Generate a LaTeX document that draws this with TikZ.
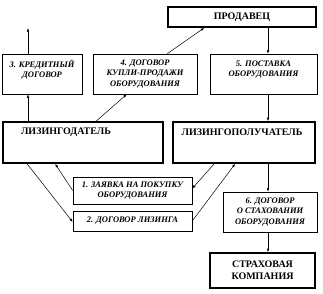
\documentclass[tikz,border=0pt]{standalone}
\usepackage{fontspec}
\setmainfont{Liberation Serif}
\usetikzlibrary{arrows.meta,calc,positioning}

\begin{document}
\begin{tikzpicture}[x=1pt, y=-1pt, >={Latex[length=3.5pt,width=2.6pt]},
    stage/.style={draw, line width=0.6pt, align=center, inner sep=0pt,
                  font=\fontsize{8.5}{10.5}\selectfont\bfseries\itshape},
    party/.style={draw, line width=1.7pt, align=center, inner sep=0pt,
                  font=\fontsize{10}{12}\selectfont\bfseries},
    partytext/.style={font=\fontsize{10}{12}\selectfont\bfseries, inner sep=0pt},
    flow/.style={->, line width=0.5pt}]
    \useasboundingbox (0,0) rectangle (323,293);

    % Parties
    \node[party, minimum width=148pt, minimum height=20pt] (prod) at (242,17) {ПРОДАВЕЦ};
    \node[party, minimum width=160pt, minimum height=41pt] (ldat) at (83,142.5) {};
    \node[partytext] (ldattext) at (66,132) {ЛИЗИНГОДАТЕЛЬ};
    \node[party, minimum width=142pt, minimum height=41pt] (lpol) at (244,142.5) {};
    \node[partytext] (lpoltext) at (242,132) {ЛИЗИНГОПОЛУЧАТЕЛЬ};
    \node[party, minimum width=105pt, minimum height=35pt] (skomp) at (262.5,270.5) {СТРАХОВАЯ\\КОМПАНИЯ};

    % Stages
    \node[stage, minimum width=80pt, minimum height=40pt] (kred) at (42,74) {3. КРЕДИТНЫЙ\\ДОГОВОР\\~};
    \node[stage, minimum width=104pt, minimum height=40pt] (kupli) at (145,74) {4. ДОГОВОР\\КУПЛИ-ПРОДАЖИ\\ОБОРУДОВАНИЯ};
    \node[stage, minimum width=107pt, minimum height=40pt] (post) at (263.5,74) {5. ПОСТАВКА\\ОБОРУДОВАНИЯ\\~};
    \node[stage, minimum width=119pt, minimum height=27pt] (zayav) at (132.5,190.5) {1. ЗАЯВКА НА ПОКУПКУ\\ОБОРУДОВАНИЯ};
    \node[stage, minimum width=119pt, minimum height=20pt] (dlis) at (132.5,221) {2. ДОГОВОР ЛИЗИНГА};
    \node[stage, minimum width=94pt, minimum height=40pt] (strah) at (270,212) {6. ДОГОВОР\\О СТАХОВАНИИ\\ОБОРУДОВАНИЯ};

    % Connections - left column
    \coordinate (kredtop) at (28,28);
    \draw[flow] (kred.north -| kredtop) -- (kredtop);
    \draw[flow] (ldat.north -| kredtop) -- (kred.south -| kredtop);
    \draw[flow] ($(ldat.north west)+(94,0)$) -- ($(kupli.south west)+(34,0)$);
    \draw[flow] ($(kupli.north east)+(-30,0)$) -- ($(prod.south west)+(37,0)$);

    % Connections - right column
    \coordinate (axis) at (268,0);
    \draw[flow] (prod.south -| axis) -- (post.north -| axis);
    \draw[flow] (post.south -| axis) -- (lpol.north -| axis);
    \draw[flow] (lpol.south -| axis) -- (strah.north -| axis);
    \draw[flow] (strah.south -| axis) -- (skomp.north -| axis);

    % Connections - leasing stages
    \draw[flow] ($(ldat.south west)+(25,0)$) -- ($(dlis.west)+(0,1)$);
    \draw[flow] (zayav.west) -- ($(ldat.south west)+(53,0)$);
    \draw[flow] ($(lpol.south west)+(42,0)$) -- ($(zayav.east)+(0,-2)$);
    \draw[flow] (dlis.east) -- ($(lpol.south west)+(63,0)$);
\end{tikzpicture}
\end{document}
